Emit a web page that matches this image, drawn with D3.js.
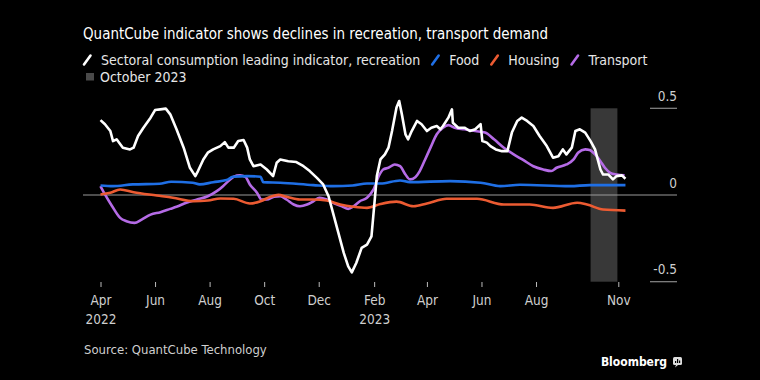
<!DOCTYPE html>
<html>
<head>
<meta charset="utf-8">
<script src="https://cdn.jsdelivr.net/npm/d3@7"></script>
<style>
  html, body { margin: 0; padding: 0; background: #000; }
  svg { display: block; }
  text { font-family: "DejaVu Sans Condensed", "DejaVu Sans", sans-serif; font-stretch: condensed; }
</style>
</head>
<body>
<svg id="chart" width="760" height="380"></svg>
<script>
// ---- data -----------------------------------------------------------------
const recreation = [
  ['2022-04-01', 0.432], ['2022-04-06', 0.408], ['2022-04-12', 0.369], ['2022-04-15', 0.311],
  ['2022-04-19', 0.321], ['2022-04-26', 0.273], ['2022-05-04', 0.263], ['2022-05-08', 0.273],
  ['2022-05-13', 0.340], ['2022-05-19', 0.388], ['2022-05-27', 0.446], ['2022-06-01', 0.490],
  ['2022-06-07', 0.494], ['2022-06-13', 0.498], ['2022-06-18', 0.465], ['2022-06-25', 0.379],
  ['2022-07-03', 0.273], ['2022-07-10', 0.157], ['2022-07-16', 0.109], ['2022-07-19', 0.138],
  ['2022-07-25', 0.205], ['2022-07-30', 0.244], ['2022-08-05', 0.263], ['2022-08-13', 0.282],
  ['2022-08-18', 0.305], ['2022-08-22', 0.273], ['2022-08-28', 0.273], ['2022-09-02', 0.311],
  ['2022-09-08', 0.317], ['2022-09-12', 0.273], ['2022-09-15', 0.205], ['2022-09-19', 0.166],
  ['2022-09-27', 0.176], ['2022-10-04', 0.147], ['2022-10-11', 0.109], ['2022-10-15', 0.186],
  ['2022-10-19', 0.205], ['2022-10-28', 0.195], ['2022-11-06', 0.190], ['2022-11-14', 0.166],
  ['2022-11-21', 0.138], ['2022-11-29', 0.099], ['2022-12-06', 0.061], ['2022-12-12', -0.007],
  ['2022-12-17', -0.103], ['2022-12-23', -0.218], ['2022-12-29', -0.334], ['2023-01-03', -0.412],
  ['2023-01-07', -0.446], ['2023-01-12', -0.392], ['2023-01-18', -0.305], ['2023-01-24', -0.286],
  ['2023-01-29', -0.238], ['2023-01-31', -0.123], ['2023-02-04', 0.109], ['2023-02-08', 0.205],
  ['2023-02-13', 0.234], ['2023-02-17', 0.273], ['2023-02-21', 0.369], ['2023-02-26', 0.504],
  ['2023-03-01', 0.542], ['2023-03-04', 0.465], ['2023-03-08', 0.350], ['2023-03-11', 0.321],
  ['2023-03-15', 0.369], ['2023-03-21', 0.427], ['2023-03-26', 0.408], ['2023-04-01', 0.369],
  ['2023-04-06', 0.388], ['2023-04-12', 0.398], ['2023-04-16', 0.379], ['2023-04-19', 0.398],
  ['2023-04-25', 0.446], ['2023-04-29', 0.494], ['2023-04-30', 0.417], ['2023-05-06', 0.388],
  ['2023-05-13', 0.388], ['2023-05-19', 0.369], ['2023-05-25', 0.379], ['2023-05-31', 0.408],
  ['2023-06-02', 0.311], ['2023-06-07', 0.302], ['2023-06-11', 0.282], ['2023-06-17', 0.263],
  ['2023-06-24', 0.253], ['2023-06-30', 0.253], ['2023-07-05', 0.360], ['2023-07-11', 0.427],
  ['2023-07-16', 0.446], ['2023-07-22', 0.427], ['2023-07-29', 0.398], ['2023-08-05', 0.340],
  ['2023-08-13', 0.282], ['2023-08-20', 0.215], ['2023-08-26', 0.224], ['2023-08-31', 0.263],
  ['2023-09-04', 0.234], ['2023-09-10', 0.273], ['2023-09-14', 0.369], ['2023-09-19', 0.379],
  ['2023-09-25', 0.360], ['2023-10-01', 0.311], ['2023-10-06', 0.263], ['2023-10-12', 0.147],
  ['2023-10-15', 0.118], ['2023-10-21', 0.118], ['2023-10-26', 0.090], ['2023-10-30', 0.109],
  ['2023-11-05', 0.113], ['2023-11-09', 0.094]
];

const food = [
  ['2022-04-01', 0.055], ['2022-04-15', 0.051], ['2022-05-07', 0.061], ['2022-06-06', 0.065],
  ['2022-06-19', 0.076], ['2022-07-13', 0.071], ['2022-07-21', 0.061], ['2022-08-05', 0.074],
  ['2022-08-20', 0.086], ['2022-08-27', 0.105], ['2022-09-12', 0.109], ['2022-09-27', 0.105],
  ['2022-09-30', 0.074], ['2022-10-19', 0.071], ['2022-11-25', 0.057], ['2022-12-17', 0.051],
  ['2023-01-08', 0.055], ['2023-01-24', 0.066], ['2023-02-08', 0.066], ['2023-03-02', 0.084],
  ['2023-03-13', 0.074], ['2023-04-27', 0.080], ['2023-05-31', 0.071], ['2023-06-22', 0.051],
  ['2023-07-14', 0.059], ['2023-09-08', 0.051], ['2023-09-30', 0.057], ['2023-11-09', 0.057]
];

const housing = [
  ['2022-04-01', 0.003], ['2022-04-12', 0.013], ['2022-04-23', 0.032], ['2022-05-08', 0.016],
  ['2022-06-03', -0.003], ['2022-06-21', -0.016], ['2022-07-14', -0.036], ['2022-07-30', -0.032],
  ['2022-08-13', -0.020], ['2022-08-28', -0.022], ['2022-09-15', -0.049], ['2022-09-27', -0.036],
  ['2022-10-08', -0.010], ['2022-10-17', 0.001], ['2022-10-26', -0.010], ['2022-11-10', -0.026],
  ['2022-11-25', -0.026], ['2022-12-10', -0.032], ['2022-12-25', -0.055], ['2023-01-09', -0.068],
  ['2023-01-24', -0.074], ['2023-02-08', -0.052], ['2023-02-26', -0.038], ['2023-03-17', -0.065],
  ['2023-04-01', -0.049], ['2023-04-23', -0.022], ['2023-05-27', -0.022], ['2023-06-26', -0.055],
  ['2023-07-25', -0.055], ['2023-08-20', -0.074], ['2023-09-16', -0.045], ['2023-09-27', -0.055],
  ['2023-10-15', -0.084], ['2023-11-09', -0.090]
];

const transport = [
  ['2022-04-01', 0.051], ['2022-04-06', 0.003], ['2022-04-14', -0.065], ['2022-04-23', -0.132],
  ['2022-04-30', -0.151], ['2022-05-09', -0.161], ['2022-05-17', -0.142], ['2022-05-27', -0.113],
  ['2022-06-07', -0.099], ['2022-06-18', -0.080], ['2022-06-25', -0.068], ['2022-07-06', -0.045],
  ['2022-07-18', -0.026], ['2022-07-30', -0.007], ['2022-08-09', 0.022], ['2022-08-16', 0.051],
  ['2022-08-22', 0.080], ['2022-08-28', 0.105], ['2022-09-04', 0.113], ['2022-09-10', 0.105],
  ['2022-09-15', 0.061], ['2022-09-23', 0.013], ['2022-09-28', -0.026], ['2022-10-04', -0.026],
  ['2022-10-12', -0.010], ['2022-10-19', -0.007], ['2022-10-26', -0.026], ['2022-11-03', -0.055],
  ['2022-11-10', -0.065], ['2022-11-18', -0.055], ['2022-11-25', -0.036], ['2022-12-02', -0.016],
  ['2022-12-10', -0.026], ['2022-12-17', -0.045], ['2022-12-27', -0.065], ['2023-01-03', -0.080],
  ['2023-01-09', -0.065], ['2023-01-16', -0.036], ['2023-01-24', -0.016], ['2023-01-31', 0.029],
  ['2023-02-06', 0.107], ['2023-02-11', 0.147], ['2023-02-17', 0.157], ['2023-02-24', 0.176],
  ['2023-03-02', 0.166], ['2023-03-08', 0.118], ['2023-03-13', 0.090], ['2023-03-19', 0.103],
  ['2023-03-24', 0.138], ['2023-03-30', 0.205], ['2023-04-05', 0.273], ['2023-04-12', 0.350],
  ['2023-04-19', 0.388], ['2023-04-25', 0.403], ['2023-05-02', 0.388], ['2023-05-13', 0.379],
  ['2023-05-25', 0.369], ['2023-06-05', 0.360], ['2023-06-15', 0.321], ['2023-06-26', 0.273],
  ['2023-07-07', 0.234], ['2023-07-18', 0.201], ['2023-07-29', 0.166], ['2023-08-09', 0.147],
  ['2023-08-18', 0.138], ['2023-08-24', 0.157], ['2023-09-04', 0.176], ['2023-09-12', 0.205],
  ['2023-09-17', 0.244], ['2023-09-25', 0.263], ['2023-09-30', 0.259], ['2023-10-06', 0.234],
  ['2023-10-12', 0.195], ['2023-10-17', 0.157], ['2023-10-23', 0.128], ['2023-10-30', 0.118],
  ['2023-11-08', 0.113]
];

const monthTicks = ['2022-04-01', '2022-06-01', '2022-08-01', '2022-10-01', '2022-12-01',
  '2023-02-01', '2023-04-01', '2023-06-01', '2023-08-01', '2023-11-01'];
const yearLabels = { '2022-04-01': '2022', '2023-02-01': '2023' };
const yTicks = [-0.5, 0, 0.5];
const yTickLabels = ['-0.5', '0', '0.5'];
const shade = ['2023-10-01', '2023-10-31'];

const series = [
  { name: 'Sectoral consumption leading indicator, recreation', color: '#ffffff', data: recreation, curve: d3.curveLinear },
  { name: 'Food', color: '#1f6fe5', data: food, curve: d3.curveMonotoneX },
  { name: 'Housing', color: '#ec5b32', data: housing, curve: d3.curveMonotoneX },
  { name: 'Transport', color: '#b56be6', data: transport, curve: d3.curveMonotoneX },
];

// ---- layout ---------------------------------------------------------------
const parse = d3.utcParse('%Y-%m-%d');
const svg = d3.select('#chart');
const left = 83;
const right = 677;

svg.append('rect').attr('width', 760).attr('height', 380).attr('fill', '#000');

const x = d3.scaleUtc()
  .domain([parse('2022-04-01'), parse('2023-11-01')])
  .range([100.5, 618.3]);
const y = d3.scaleLinear().domain([-0.5, 0.5]).range([281.7, 108.3]);

// title
svg.append('text')
  .attr('x', left).attr('y', 39)
  .attr('fill', '#fff')
  .attr('font-size', 15)
  .attr('textLength', 465)
  .attr('lengthAdjust', 'spacingAndGlyphs')
  .text('QuantCube indicator shows declines in recreation, transport demand');

// legend
const legend = svg.append('g');
let lx = left + 1;
series.forEach((s) => {
  legend.append('line')
    .attr('x1', lx).attr('y1', 64.5).attr('x2', lx + 6.5).attr('y2', 55.5)
    .attr('stroke', s.color).attr('stroke-width', 2.6).attr('stroke-linecap', 'round');
  const t = legend.append('text')
    .attr('x', lx + 17).attr('y', 64.5)
    .attr('fill', '#e6e6e6').attr('font-size', 14)
    .text(s.name);
  lx += 17 + t.node().getComputedTextLength() + 12;
});
legend.append('rect')
  .attr('x', 86).attr('y', 73).attr('width', 8).attr('height', 7.5)
  .attr('fill', '#4a4a4a');
legend.append('text')
  .attr('x', 100).attr('y', 81.5)
  .attr('fill', '#e6e6e6').attr('font-size', 14)
  .text('October 2023');

// october shading
svg.append('rect')
  .attr('x', x(parse(shade[0])))
  .attr('width', x(parse(shade[1])) - x(parse(shade[0])))
  .attr('y', y(0.5)).attr('height', y(-0.5) - y(0.5))
  .attr('fill', '#383838');

// right axis: short rules with labels above, full zero line
const yAxis = svg.append('g');
yTicks.forEach((v, i) => {
  yAxis.append('line')
    .attr('x1', v === 0 ? left : 650).attr('x2', right)
    .attr('y1', y(v)).attr('y2', y(v))
    .attr('stroke', v === 0 ? '#9a9a9a' : '#8a8a8a').attr('stroke-width', 1.2);
  yAxis.append('text')
    .attr('x', right).attr('y', y(v) - 7.5)
    .attr('text-anchor', 'end')
    .attr('fill', '#cfcfcf').attr('font-size', 13.5)
    .text(yTickLabels[i]);
});

// bottom axis
const xAxis = svg.append('g')
  .attr('transform', `translate(0,${282})`)
  .call(d3.axisBottom(x)
    .tickValues(monthTicks.map(parse))
    .tickSize(5)
    .tickPadding(8)
    .tickFormat(d3.utcFormat('%b')));
xAxis.select('.domain').remove();
xAxis.selectAll('.tick line').attr('stroke', '#bbb');
xAxis.selectAll('.tick text')
  .attr('fill', '#cfcfcf').attr('font-size', 13.5)
  .attr('font-family', null);
xAxis.selectAll('.tick')
  .filter((d) => yearLabels[d3.utcFormat('%Y-%m-%d')(d)])
  .append('text')
  .attr('y', 41.5)
  .attr('text-anchor', 'middle')
  .attr('fill', '#cfcfcf').attr('font-size', 13.5)
  .text((d) => yearLabels[d3.utcFormat('%Y-%m-%d')(d)]);

// lines
svg.append('g').selectAll('path')
  .data(series.slice().reverse())
  .join('path')
  .attr('d', (s) => d3.line()
    .x((d) => x(parse(d[0])))
    .y((d) => y(d[1]))
    .curve(s.curve)(s.data))
  .attr('fill', 'none')
  .attr('stroke', (s) => s.color)
  .attr('stroke-width', 2.6)
  .attr('stroke-linejoin', 'round');

// footer
svg.append('text')
  .attr('x', 84).attr('y', 354)
  .attr('fill', '#cfcfcf').attr('font-size', 13)
  .text('Source: QuantCube Technology');

svg.append('text')
  .attr('x', 667).attr('y', 366)
  .attr('text-anchor', 'end')
  .attr('fill', '#fff').attr('font-size', 12).attr('font-weight', 'bold')
  .attr('font-family', 'Roboto, "Liberation Sans", sans-serif')
  .text('Bloomberg');
const logo = svg.append('g').attr('transform', 'translate(673,357)');
logo.append('rect').attr('width', 9).attr('height', 8).attr('rx', 1.5).attr('fill', '#ddd');
logo.append('path').attr('d', 'M3,8 L2,10.5 L5,8 Z').attr('fill', '#ddd');
[[2, 4], [4, 2], [6, 3.5]].forEach(([bx, by]) => {
  logo.append('rect').attr('x', bx).attr('y', by).attr('width', 1.2).attr('height', 6 - by)
    .attr('fill', '#000');
});
</script>
</body>
</html>
